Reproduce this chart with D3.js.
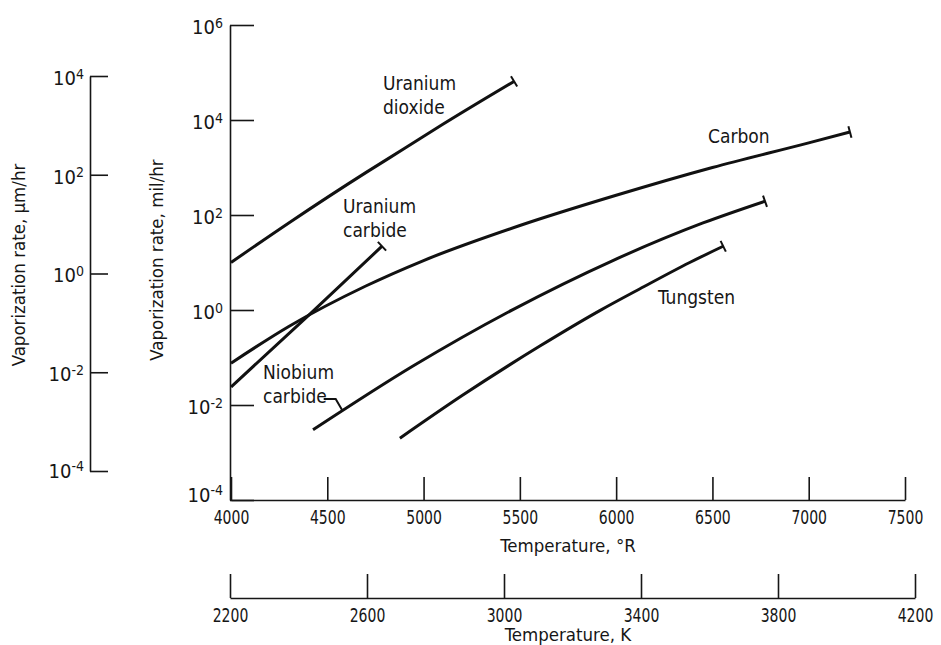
<!DOCTYPE html>
<html>
<head>
<meta charset="utf-8">
<script src="https://cdn.jsdelivr.net/npm/d3@7"></script>
<style>
  body { margin: 0; background: #fff; }
  text { fill: #161616; }
  .lbl { font-family: "DejaVu Sans Condensed", "DejaVu Sans", sans-serif; font-stretch: condensed; font-size: 19px; }
  .title { font-family: "DejaVu Sans Condensed", "DejaVu Sans", sans-serif; font-stretch: condensed; font-size: 18.5px; }
  .axis text { font-family: "DejaVu Sans Condensed", "DejaVu Sans", sans-serif; font-stretch: condensed; font-size: 19px; fill: #161616; }
  .axis.yax text { font-size: 20px; }
  .axis path, .axis line { stroke: #161616; stroke-width: 1.6; }
  .curve { fill: none; stroke: #111; stroke-width: 3; }
  .cap, .leader { fill: none; stroke: #111; stroke-width: 2; }
</style>
</head>
<body>
<svg id="chart" width="941" height="645"></svg>
<script>
// temperature (deg R) and vaporization rate (mil/hr)
var uo2Temp = [4000, 4300, 4700, 4900, 5100, 5470];
var uo2Rate = [10, 68, 780, 2500, 8100, 65000];

var carbonTemp = [4000, 4300, 4700, 5000, 5500, 6000, 6500, 7000, 7214];
var carbonRate = [0.076, 0.45, 3.2, 11, 60, 260, 1000, 3300, 5600];

var ucTemp = [4000, 4400, 4784];
var ucRate = [0.024, 0.75, 22];

var nbcTemp = [4426, 4945, 5464, 5983, 6451, 6773];
var nbcRate = [0.003, 0.066, 1.02, 11, 68, 195];

var wTemp = [4877, 5200, 5604, 5915, 6124, 6382, 6556];
var wRate = [0.002, 0.0158, 0.174, 0.97, 2.8, 10, 22];

var tempRTicks = [4000, 4500, 5000, 5500, 6000, 6500, 7000, 7500];
var tempKTicks = [2200, 2600, 3000, 3400, 3800, 4200];
var milTicks = [1e-4, 1e-2, 1e0, 1e2, 1e4, 1e6];
var umTicks = [1e-4, 1e-2, 1e0, 1e2, 1e4];

var svg = d3.select("#chart");

var x = d3.scaleLinear().domain([4000, 7500]).range([231, 905]);
var y = d3.scaleLog().domain([1e-4, 1e6]).range([500, 25]);
var yUm = d3.scaleLog().domain([1e-4, 1e4]).range([471, 76]);
var xK = d3.scaleLinear().domain([2200, 4200]).range([230, 915]);

function powerLabels(sel, bottomDy) {
  sel.selectAll(".tick text").each(function(d) {
    var t = d3.select(this).text(null);
    var e = Math.round(Math.log10(d));
    t.attr("dy", d === 1e-4 ? bottomDy : "0.42em");
    t.append("tspan").text("10");
    t.append("tspan").attr("dy", "-0.45em").style("font-size", "14px").text(e);
  });
}

// main (mil/hr) axis
var gy = svg.append("g").attr("class", "axis yax")
  .attr("transform", "translate(230,0)")
  .call(d3.axisLeft(y).tickValues(milTicks).tickSizeInner(-24).tickSizeOuter(0).tickPadding(7));
powerLabels(gy, "0.05em");

// secondary (um/hr) axis
var gu = svg.append("g").attr("class", "axis yax")
  .attr("transform", "translate(90,0)")
  .call(d3.axisLeft(yUm).tickValues(umTicks).tickSizeInner(-18).tickSizeOuter(0).tickPadding(6));
powerLabels(gu, "0.3em");

// temperature, deg R
var gx = svg.append("g").attr("class", "axis")
  .attr("transform", "translate(0,500)")
  .call(d3.axisBottom(x).tickValues(tempRTicks).tickFormat(d3.format("d"))
    .tickSizeInner(-23).tickSizeOuter(0).tickPadding(11));
gx.selectAll(".tick text").attr("transform", "scale(0.82,1)");

// temperature, K
var gk = svg.append("g").attr("class", "axis")
  .attr("transform", "translate(0,598)")
  .call(d3.axisBottom(xK).tickValues(tempKTicks).tickFormat(d3.format("d"))
    .tickSizeInner(-24).tickSizeOuter(0).tickPadding(11));
gk.selectAll(".tick text").attr("transform", "scale(0.82,1)");

svg.append("text").attr("class", "title").attr("x", 568).attr("y", 552)
  .attr("text-anchor", "middle").text("Temperature, \u00B0R");
svg.append("text").attr("class", "title").attr("x", 568).attr("y", 641)
  .attr("text-anchor", "middle").text("Temperature, K");
svg.append("text").attr("class", "title")
  .attr("transform", "translate(25,265) rotate(-90)")
  .attr("text-anchor", "middle").text("Vaporization rate, \u03BCm/hr");
svg.append("text").attr("class", "title")
  .attr("transform", "translate(163,260) rotate(-90)")
  .attr("text-anchor", "middle").text("Vaporization rate, mil/hr");

// curves
var series = [
  [uo2Temp, uo2Rate],
  [carbonTemp, carbonRate],
  [ucTemp, ucRate],
  [nbcTemp, nbcRate],
  [wTemp, wRate]
];

var line = d3.line()
  .x(function(d) { return x(d[0]); })
  .y(function(d) { return y(d[1]); })
  .curve(d3.curveMonotoneX);

series.forEach(function(s) {
  var pts = s[0].map(function(t, i) { return [t, s[1][i]]; });
  svg.append("path").attr("class", "curve").attr("d", line(pts));
  // end cap, perpendicular to the last segment
  var a = pts[pts.length - 2], b = pts[pts.length - 1];
  var dx = x(b[0]) - x(a[0]), dy = y(b[1]) - y(a[1]);
  var len = Math.sqrt(dx * dx + dy * dy);
  var nx = -dy / len * 6, ny = dx / len * 6;
  svg.append("line").attr("class", "cap")
    .attr("x1", x(b[0]) + nx).attr("y1", y(b[1]) + ny)
    .attr("x2", x(b[0]) - nx).attr("y2", y(b[1]) - ny);
});

// labels
var labels = [
  { x: 383, y: 90, lines: ["Uranium", "dioxide"] },
  { x: 343, y: 213, lines: ["Uranium", "carbide"] },
  { x: 708, y: 143, lines: ["Carbon"] },
  { x: 263, y: 379, lines: ["Niobium", "carbide"] },
  { x: 658, y: 304, lines: ["Tungsten"] }
];
labels.forEach(function(l) {
  var t = svg.append("text").attr("class", "lbl").attr("x", l.x).attr("y", l.y);
  l.lines.forEach(function(s, i) {
    t.append("tspan").attr("x", l.x).attr("dy", i ? 24 : 0).text(s);
  });
});

// leader from "carbide" to the niobium carbide curve
var lt = 4580;
var li = d3.bisectRight(nbcTemp, lt);
var f = (lt - nbcTemp[li - 1]) / (nbcTemp[li] - nbcTemp[li - 1]);
var lr = Math.pow(10, Math.log10(nbcRate[li - 1]) + f * (Math.log10(nbcRate[li]) - Math.log10(nbcRate[li - 1])));
var ex = x(lt), ey = y(lr);
svg.append("path").attr("class", "leader")
  .attr("d", "M" + (ex - 19) + "," + (ey - 12) + "H" + (ex - 7) + "L" + ex + "," + ey);
</script>
</body>
</html>
